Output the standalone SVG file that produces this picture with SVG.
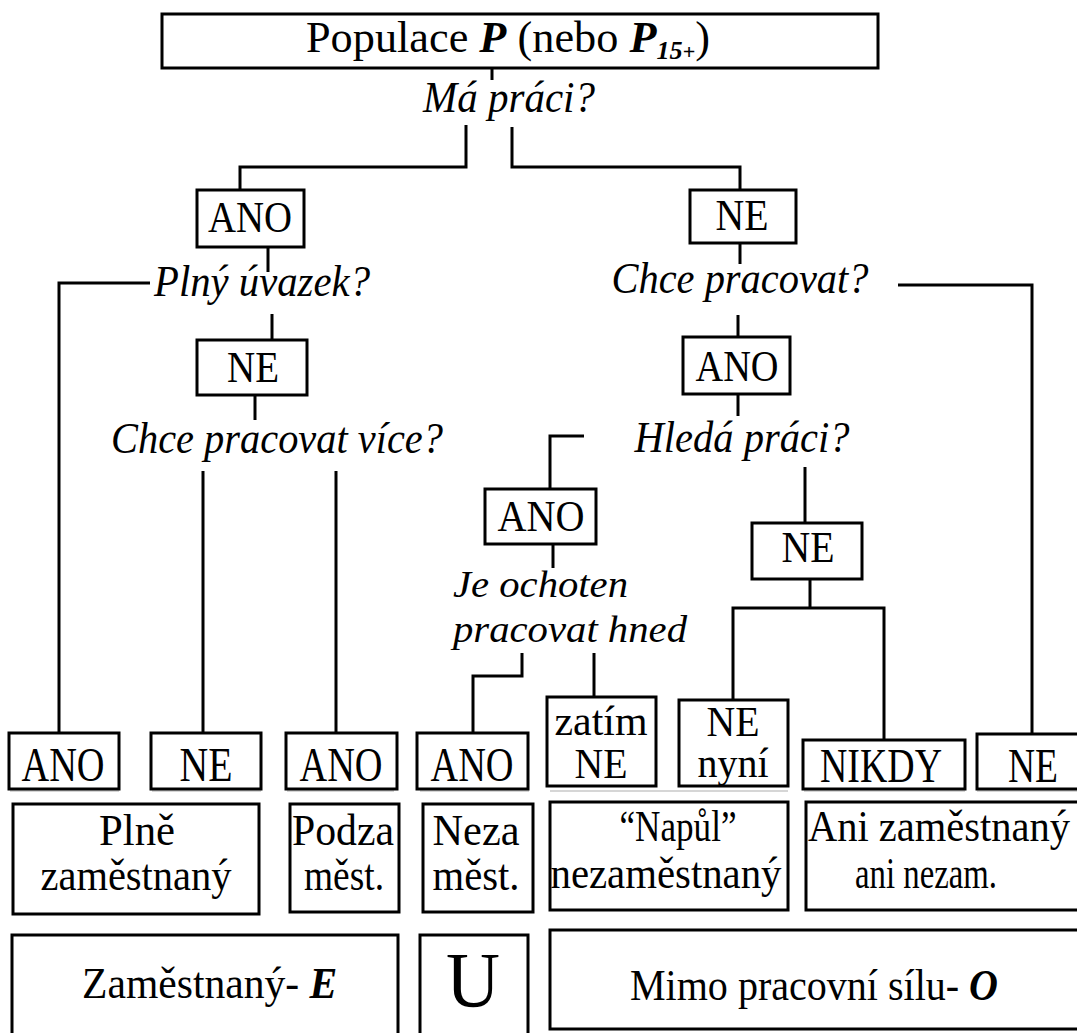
<svg xmlns="http://www.w3.org/2000/svg" width="1077" height="1033" viewBox="0 0 1077 1033">
<style>
.bx{fill:#fff;stroke:#000;stroke-width:3}
.ln{fill:none;stroke:#000;stroke-width:3}
.gl{fill:none;stroke:#d6d6d6;stroke-width:2}
text{font-family:"Liberation Serif","Times New Roman",serif;fill:#000}
.c{text-anchor:middle}
.q{font-style:italic;font-size:45px}
.a{font-size:44px}
.b{font-size:49px}
.m{font-size:45px}
.bi{font-weight:bold;font-style:italic}
</style>
<rect width="1077" height="1033" fill="#fff"/>
<g id="connectors">
<path class="ln" d="M492 68V80"/>
<path class="ln" d="M466 125V167H240V190"/>
<path class="ln" d="M512 127V167H740V190"/>
<path class="ln" d="M268 247V272"/>
<path class="ln" d="M150 283H59V733"/>
<path class="ln" d="M272 314V340"/>
<path class="ln" d="M255 395V420"/>
<path class="ln" d="M203 471V733"/>
<path class="ln" d="M336 471V733"/>
<path class="ln" d="M740 243V264"/>
<path class="ln" d="M898 285H1032V734"/>
<path class="ln" d="M738 315V337"/>
<path class="ln" d="M738 394V416"/>
<path class="ln" d="M584 436H550V489"/>
<path class="ln" d="M805 467V523"/>
<path class="ln" d="M553 544V568"/>
<path class="ln" d="M522 653V676H473V733"/>
<path class="ln" d="M594 653V697"/>
<path class="ln" d="M810 579V608"/>
<path class="ln" d="M733 700V608H884V740"/>
</g>
<g id="shadows">
<path class="gl" d="M10 791H119M152 791H261M287 791H394M420 791H529M550 791H788M804 791H965M977 791H1077"/>
</g>
<g id="root">
<rect class="bx" x="162" y="14" width="716" height="54"/>
<text x="508" y="52" textLength="404" lengthAdjust="spacingAndGlyphs" class="c" font-size="44">Populace <tspan class="bi">P</tspan> (nebo <tspan class="bi">P</tspan><tspan class="bi" font-size="26" dy="7">15</tspan><tspan font-size="22" font-weight="bold">+</tspan><tspan dy="-7">)</tspan></text>
</g>
<g id="q-ma-praci"><text class="q c" x="509" y="112" textLength="172" lengthAdjust="spacingAndGlyphs">Má práci?</text></g>
<g id="ano1"><rect class="bx" x="197" y="190" width="107" height="57"/><text class="a c" x="250" y="232" textLength="84" lengthAdjust="spacingAndGlyphs">ANO</text></g>
<g id="q-plny"><text class="q c" x="262" y="296" textLength="216" lengthAdjust="spacingAndGlyphs">Plný úvazek?</text></g>
<g id="ne1"><rect class="bx" x="197" y="340" width="110" height="55"/><text class="a c" x="253" y="382" textLength="52" lengthAdjust="spacingAndGlyphs">NE</text></g>
<g id="q-vice"><text class="q c" x="277" y="453" textLength="332" lengthAdjust="spacingAndGlyphs">Chce pracovat více?</text></g>
<g id="ne-r1"><rect class="bx" x="690" y="190" width="106" height="53"/><text class="a c" x="742" y="230" textLength="53" lengthAdjust="spacingAndGlyphs">NE</text></g>
<g id="q-chce"><text class="q c" x="740" y="293" textLength="257" lengthAdjust="spacingAndGlyphs">Chce pracovat?</text></g>
<g id="ano-r1"><rect class="bx" x="683" y="337" width="107" height="57"/><text class="a c" x="737" y="381" textLength="83" lengthAdjust="spacingAndGlyphs">ANO</text></g>
<g id="q-hleda"><text class="q c" x="742" y="452" textLength="215" lengthAdjust="spacingAndGlyphs">Hledá práci?</text></g>
<g id="ano2"><rect class="bx" x="485" y="489" width="111" height="55"/><text class="a c" x="541" y="531" textLength="87" lengthAdjust="spacingAndGlyphs">ANO</text></g>
<g id="ne-r2"><rect class="bx" x="752" y="523" width="110" height="56"/><text class="a c" x="808" y="562" textLength="53" lengthAdjust="spacingAndGlyphs">NE</text></g>
<g id="q-ochoten">
<text class="q" x="453" y="597" textLength="175" lengthAdjust="spacingAndGlyphs" style="font-size:38px">Je ochoten</text>
<text class="q" x="453" y="642" textLength="234" lengthAdjust="spacingAndGlyphs" style="font-size:38px">pracovat hned</text>
</g>
<g id="r1-ano-a"><rect class="bx" x="9" y="733" width="110" height="56"/><text class="b c" x="63" y="781" textLength="83" lengthAdjust="spacingAndGlyphs">ANO</text></g>
<g id="r1-ne-b"><rect class="bx" x="151" y="733" width="110" height="56"/><text class="b c" x="206" y="781" textLength="53" lengthAdjust="spacingAndGlyphs">NE</text></g>
<g id="r1-ano-c"><rect class="bx" x="286" y="733" width="111" height="56"/><text class="b c" x="341" y="781" textLength="83" lengthAdjust="spacingAndGlyphs">ANO</text></g>
<g id="r1-ano-d"><rect class="bx" x="417" y="733" width="111" height="56"/><text class="b c" x="472" y="781" textLength="83" lengthAdjust="spacingAndGlyphs">ANO</text></g>
<g id="r1-zatim"><rect class="bx" x="547" y="697" width="109" height="89"/><text class="c" font-size="42" x="601" y="735" textLength="93" lengthAdjust="spacingAndGlyphs">zatím</text><text class="c" font-size="42" x="601" y="778" textLength="53" lengthAdjust="spacingAndGlyphs">NE</text></g>
<g id="r1-nyni"><rect class="bx" x="679" y="700" width="109" height="86"/><text class="c" font-size="42" x="733" y="736" textLength="53" lengthAdjust="spacingAndGlyphs">NE</text><text class="c" font-size="42" x="733" y="777" textLength="71" lengthAdjust="spacingAndGlyphs">nyní</text></g>
<g id="r1-nikdy"><rect class="bx" x="803" y="740" width="162" height="49"/><text class="b c" x="881" y="782" textLength="122" lengthAdjust="spacingAndGlyphs">NIKDY</text></g>
<g id="r1-ne-r"><rect class="bx" x="977" y="734" width="115" height="55"/><text class="b c" x="1033" y="782" textLength="50" lengthAdjust="spacingAndGlyphs">NE</text></g>
<g id="c-plne"><rect class="bx" x="13" y="804" width="246" height="110"/><text class="m c" x="137" y="845" textLength="76" lengthAdjust="spacingAndGlyphs">Plně</text><text class="m c" x="136" y="890" textLength="191" lengthAdjust="spacingAndGlyphs">zaměstnaný</text></g>
<g id="c-podza"><rect class="bx" x="290" y="804" width="109" height="108"/><text class="m c" x="343" y="845" textLength="102" lengthAdjust="spacingAndGlyphs">Podza</text><text class="m c" x="344" y="890" textLength="80" lengthAdjust="spacingAndGlyphs">měst.</text></g>
<g id="c-neza"><rect class="bx" x="423" y="804" width="110" height="108"/><text class="m c" x="476" y="845" textLength="87" lengthAdjust="spacingAndGlyphs">Neza</text><text class="m c" x="476" y="890" textLength="87" lengthAdjust="spacingAndGlyphs">měst.</text></g>
<g id="c-napul"><rect class="bx" x="550" y="802" width="238" height="108"/><text class="m c" x="678" y="841" textLength="117" lengthAdjust="spacingAndGlyphs">“Napůl”</text><text class="m c" x="666" y="888" textLength="231" lengthAdjust="spacingAndGlyphs">nezaměstnaný</text></g>
<g id="c-ani"><rect class="bx" x="806" y="802" width="290" height="108"/><text class="c" font-size="45" transform="translate(939 841) scale(0.9 1)">Ani zaměstnaný</text><text class="m c" x="926" y="888" textLength="142" lengthAdjust="spacingAndGlyphs">ani nezam.</text></g>
<g id="g-e"><path class="ln" d="M12 1040V935H398V1040"/><text font-size="45" transform="translate(82 998) scale(0.925 1)">Zaměstnaný- <tspan class="bi">E</tspan></text></g>
<g id="g-u"><path class="ln" d="M420 1040V935H528V1040"/><text class="c" x="473" y="1006" font-size="78" textLength="54" lengthAdjust="spacingAndGlyphs">U</text></g>
<g id="g-o"><rect class="bx" x="550" y="930" width="560" height="99"/><text font-size="45" transform="translate(630 1000) scale(0.89 1)">Mimo pracovní sílu- <tspan class="bi">O</tspan></text></g>
</svg>
